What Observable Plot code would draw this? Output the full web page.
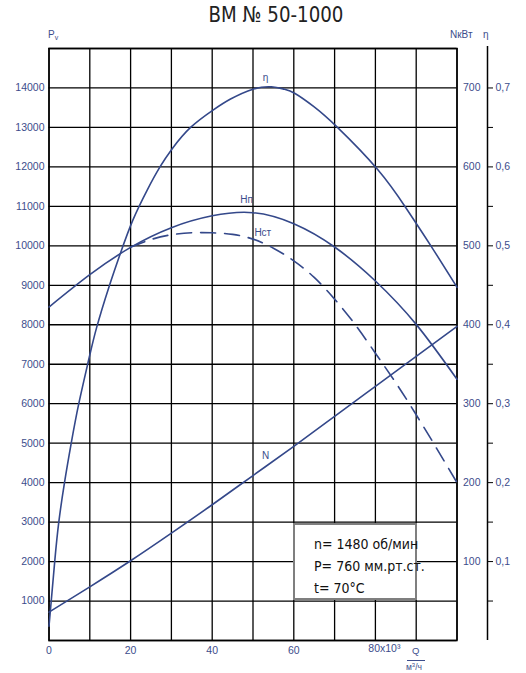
<!DOCTYPE html>
<html>
<head>
<meta charset="utf-8">
<script src="https://cdn.jsdelivr.net/npm/d3@7"></script>
<script src="https://cdn.jsdelivr.net/npm/@observablehq/plot@0.6"></script>
<style>
  html, body { margin: 0; padding: 0; background: #fff; }
  #wrap { position: relative; width: 526px; height: 673px; overflow: hidden; font-family: "Liberation Sans", Arial, sans-serif; }
  #wrap svg { position: absolute; left: 0; top: 0; }
  .ov { position: absolute; white-space: nowrap; line-height: 1; color: #3c4d8c; font-size: 10px; }
  #title { position: absolute; left: 0; width: 552px; top: 4px; text-align: center; line-height: 1;
           font-family: "Liberation Sans Narrow", "DejaVu Sans Condensed", "Liberation Sans", sans-serif;
           font-stretch: condensed; font-size: 22px; color: #222; transform: scaleX(0.92); transform-origin: 276px 50%; }
  #box { position: absolute; left: 293px; top: 523px; width: 120px; height: 73px; border: 2px solid #7f7f7f;
         background: #fff; box-sizing: content-box; padding: 0; }
  #box div { position: absolute; left: 19px; white-space: nowrap; line-height: 1;
             font-family: "Liberation Sans Narrow", "DejaVu Sans Condensed", "Liberation Sans", sans-serif;
             font-stretch: condensed; font-size: 14px; color: #111; }
</style>
</head>
<body>
<div id="wrap">
  <div id="title">ВМ № 50-1000</div>
  <div class="ov" style="left:48px;top:30px;">P<span style="font-size:7px;position:relative;top:2px;">v</span></div>
  <div class="ov" style="left:450px;top:30px;">NкВт</div>
  <div class="ov" style="left:483px;top:30px;">η</div>
  <div class="ov" style="left:412px;top:646px;font-size:9.5px;">Q</div>
  <div style="position:absolute;left:407px;top:660px;width:18px;height:0;border-top:1px solid #3c4d8c;"></div>
  <div class="ov" style="left:406px;top:663px;font-size:8.5px;">м<span style="font-size:6px;position:relative;top:-3px;">3</span>/ч</div>
</div>
<script>
// ---- Data ----
// Q in thousands of m³/h
const qHp  = [0, 10, 20, 30, 40, 50, 60, 70, 80, 90, 100];
const hp   = [8450, 9270, 9960, 10460, 10760, 10840, 10560, 9970, 9110, 8010, 6620];   // Нп, Pv

const qHst = [20, 25, 30, 35, 40, 45, 50, 55, 60, 65, 70, 75, 80, 85, 90, 95, 100];
const hst  = [9970, 10160, 10280, 10330, 10330, 10290, 10170, 9940, 9620, 9200, 8650, 8010, 7280, 6530, 5720, 4870, 4000]; // Нст, Pv

const qN   = [0, 10, 20, 30, 40, 50, 60, 70, 80, 90, 100];
const nKw  = [36, 68, 101, 136, 172, 209, 246, 284, 322, 360, 398];   // N, кВт

const qEta = [0, 1.4, 2.4, 3.8, 5.45, 7.3, 9.7, 11.7, 14.7, 17.6, 20.5, 24.1, 27.2, 30.2, 34.7, 40.2, 44.5, 50, 54.5, 57.6, 60.3, 65, 70.7, 80.5, 87.5, 93.6, 100];
const eta  = [0.018, 0.1, 0.15, 0.2, 0.25, 0.3, 0.355, 0.397, 0.448, 0.492, 0.532, 0.571, 0.6, 0.623, 0.65, 0.672, 0.686, 0.6985, 0.7015, 0.6985, 0.693, 0.676, 0.65, 0.597, 0.548, 0.5, 0.4475];

const xTicks    = [0, 20, 40, 60];
const xTickLast = ["80x10³"];
const pvTicks   = [1000, 2000, 3000, 4000, 5000, 6000, 7000, 8000, 9000, 10000, 11000, 12000, 13000, 14000];
const nTicks    = [100, 200, 300, 400, 500, 600, 700];
const etaTicks  = [0.05, 0.1, 0.15, 0.2, 0.25, 0.3, 0.35, 0.4, 0.45, 0.5, 0.55, 0.6, 0.65, 0.7];

const curveNames = ["η", "Нп", "Нст", "N"];
const curveLabelQ = [53.1, 48.4, 52.4, 53.1];
const curveLabelV = [14265, 11160, 10330, 4687];

const info = ["n= 1480 об/мин", "P= 760 мм.рт.ст.", "t= 70°C"];

// ---- Build tables (N and η share the Pv scale: 700 кВт = 0,7 = 14000) ----
const NK = 20, EK = 20000;
const hpData  = qHp.map((q, i) => ({q, v: hp[i]}));
const hstData = qHst.map((q, i) => ({q, v: hst[i]}));
const nData   = qN.map((q, i) => ({q, v: nKw[i] * NK}));
const etaData = qEta.map((q, i) => ({q, v: eta[i] * EK}));
const labels  = curveNames.map((t, i) => ({t, q: curveLabelQ[i], v: curveLabelV[i]}));

const blue = "#34488a";
const textBlue = "#3c4d8c";

const chart = Plot.plot({
  width: 526,
  height: 673,
  marginLeft: 48.5,
  marginRight: 69.5,
  marginTop: 48,
  marginBottom: 33,
  style: {fontFamily: "'Liberation Sans', Arial, sans-serif", fontSize: "10.5px", background: "transparent", color: textBlue},
  x: {domain: [0, 100]},
  y: {domain: [0, 15000]},
  marks: [
    Plot.gridX({ticks: d3.range(0, 101, 10), stroke: "#000", strokeOpacity: 1, strokeWidth: 1.3}),
    Plot.gridY({ticks: d3.range(0, 15001, 1000), stroke: "#000", strokeOpacity: 1, strokeWidth: 1.3}),
    Plot.frame({stroke: "#000", strokeWidth: 1.5}),
    Plot.axisX({ticks: xTicks, tickSize: 0, tickPadding: 6, tickFormat: d3.format("d"), fill: textBlue, label: null}),
    Plot.text(xTickLast, {x: () => 80, frameAnchor: "bottom", dy: 11, dx: 9, text: d => d, fill: textBlue}),
    Plot.axisY({ticks: pvTicks, tickSize: 0, tickPadding: 4.5, tickFormat: d3.format("d"), fill: textBlue, label: null}),
    Plot.axisY({anchor: "right", ticks: nTicks.map(d => d * NK), tickSize: 0, tickPadding: 6, tickFormat: d => d / NK, fill: textBlue, label: null}),
    Plot.ruleX([100], {y1: 0, y2: 15050, dx: 30.5, stroke: "#000", strokeWidth: 1.5}),
    Plot.axisY({anchor: "right", ticks: etaTicks.map(d => Math.round(d * EK)), dx: 30.5, tickSize: 5, tickPadding: 3,
      tickFormat: d => (d % 2000 === 0 ? String(d / EK).replace(".", ",") : ""), stroke: "#000", fill: textBlue, label: null}),
    Plot.line(hpData, {x: "q", y: "v", curve: "natural", stroke: blue, strokeWidth: 1.6}),
    Plot.line(hstData, {x: "q", y: "v", curve: "natural", stroke: blue, strokeWidth: 1.6, strokeDasharray: "15,9"}),
    Plot.line(nData, {x: "q", y: "v", curve: "natural", stroke: blue, strokeWidth: 1.6}),
    Plot.line(etaData, {x: "q", y: "v", curve: "natural", stroke: blue, strokeWidth: 1.6}),
    Plot.text(labels, {x: "q", y: "v", text: "t", fill: textBlue, fontSize: 10})
  ]
});

const wrap = document.getElementById("wrap");
wrap.insertBefore(chart, wrap.firstChild);

const box = document.createElement("div");
box.id = "box";
info.forEach((s, i) => {
  const d = document.createElement("div");
  d.textContent = s;
  d.style.top = (12 + i * 22) + "px";
  box.appendChild(d);
});
wrap.appendChild(box);
</script>
</body>
</html>
